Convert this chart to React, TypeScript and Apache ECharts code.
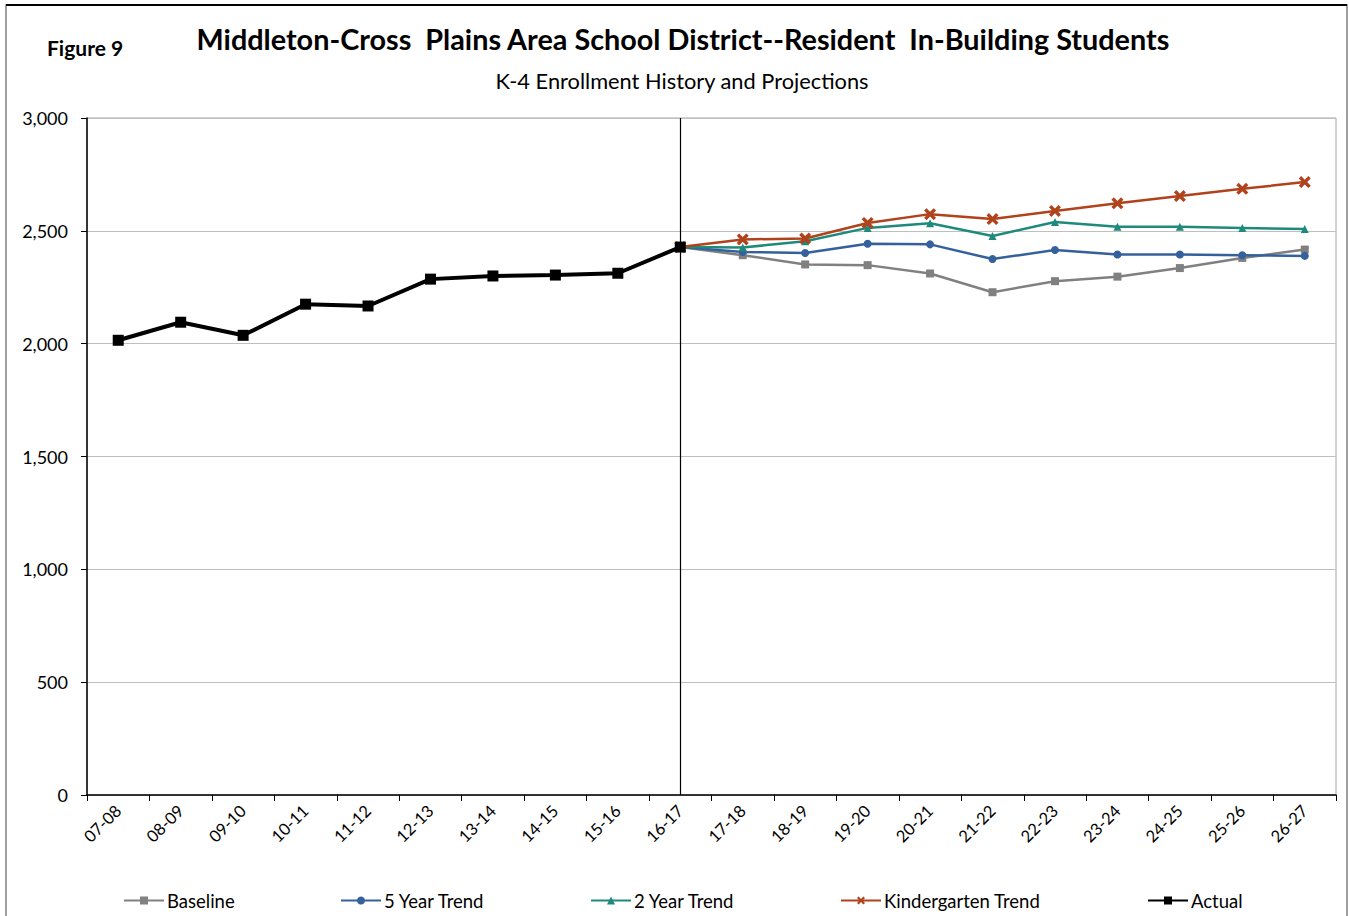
import React, { useEffect, useRef } from "react";
import * as echarts from "echarts";

const categories = ["07-08", "08-09", "09-10", "10-11", "11-12", "12-13", "13-14", "14-15", "15-16", "16-17", "17-18", "18-19", "19-20", "20-21", "21-22", "22-23", "23-24", "24-25", "25-26", "26-27"];
const actual = [2015, 2095, 2037, 2175, 2167, 2286, 2300, 2304, 2312, 2428, null, null, null, null, null, null, null, null, null, null];
const baseline = [null, null, null, null, null, null, null, null, null, 2428, 2392, 2351, 2348, 2311, 2228, 2277, 2297, 2335, 2380, 2417];
const fiveYear = [null, null, null, null, null, null, null, null, null, 2428, 2406, 2402, 2443, 2440, 2375, 2415, 2395, 2395, 2392, 2389];
const twoYear = [null, null, null, null, null, null, null, null, null, 2428, 2426, 2454, 2513, 2534, 2477, 2539, 2518, 2518, 2513, 2508];
const kinderTrend = [null, null, null, null, null, null, null, null, null, 2428, 2462, 2466, 2535, 2574, 2552, 2588, 2622, 2654, 2686, 2716];
const yTicks = { min: 0, max: 3000, interval: 500 };

const FONT = "Lato, 'Noto Sans', sans-serif";
const xSymbol = "path://M0,2 L2,0 L5,3 L8,0 L10,2 L7,5 L10,8 L8,10 L5,7 L2,10 L0,8 L3,5 Z";

export default function App() {
  const ref = useRef<HTMLDivElement>(null);
  useEffect(() => {
    document.body.style.margin = "0";
    const chart = echarts.init(ref.current!, null, { renderer: "svg" });
    const legendBase = {
      top: 891,
      itemWidth: 40,
      itemHeight: 10,
      textStyle: { fontFamily: FONT, fontSize: 18.5, color: "#000", padding: [0, 0, 0, -2] },
      selectedMode: false,
      padding: 0,
    };
    chart.setOption({
      animation: false,
      backgroundColor: "#fff",
      textStyle: { fontFamily: FONT },
      title: [
        { text: "Figure 9", left: 42, top: 32, textStyle: { fontFamily: FONT, fontSize: 21, fontWeight: "bold", color: "#000" } },
        { text: "Middleton-Cross  Plains Area School District--Resident  In-Building Students", left: 678, textAlign: "center", top: 19, textStyle: { fontFamily: FONT, fontSize: 28.8, fontWeight: "bold", color: "#000" } },
        { text: "K-4 Enrollment History and Projections", left: 677, textAlign: "center", top: 64, textStyle: { fontFamily: FONT, fontSize: 21.8, fontWeight: "normal", color: "#000" } },
      ],
      graphic: [
        { type: "rect", shape: { x: 6, y: 5, width: 1341, height: 930 }, style: { fill: "none", stroke: "#808080", lineWidth: 1.5 }, silent: true },
        { type: "line", shape: { x1: 6, y1: 5, x2: 1347, y2: 5 }, style: { stroke: "#000", lineWidth: 2 }, silent: true },
      ],
      legend: [
        { ...legendBase, left: 123, data: ["Baseline"] },
        { ...legendBase, left: 340, data: ["5 Year Trend"] },
        { ...legendBase, left: 590, data: ["2 Year Trend"] },
        { ...legendBase, left: 840, data: ["Kindergarten Trend"] },
        { ...legendBase, left: 1147, data: ["Actual"] },
      ],
      grid: { left: 87, right: 13, top: 118, bottom: 121, show: true, borderColor: "#a6a6a6", borderWidth: 1, containLabel: false },
      xAxis: {
        type: "category",
        data: categories,
        boundaryGap: true,
        axisLine: { show: true, lineStyle: { color: "#000", width: 1.5 } },
        axisTick: { show: true, interval: 0, length: 6, lineStyle: { color: "#000" } },
        axisLabel: { interval: 0, rotate: 45, fontSize: 16.5, color: "#000", fontFamily: FONT, margin: 13 },
        splitLine: { show: false },
      },
      yAxis: {
        type: "value",
        min: yTicks.min,
        max: yTicks.max,
        interval: yTicks.interval,
        axisLine: { show: true, lineStyle: { color: "#000", width: 1.5 } },
        axisTick: { show: true, length: 6, lineStyle: { color: "#000" } },
        axisLabel: { fontSize: 18, color: "#000", fontFamily: FONT, margin: 19, formatter: (v: number) => v.toLocaleString("en-US") },
        splitLine: { show: true, lineStyle: { color: "#bfbfbf", width: 1 } },
      },
      series: [
        {
          name: "Baseline", type: "line", data: baseline, color: "#808080",
          symbol: "rect", symbolSize: 8,
          lineStyle: { width: 2.5, color: "#808080" }, itemStyle: { color: "#808080" },
        },
        {
          name: "5 Year Trend", type: "line", data: fiveYear, color: "#34609c",
          symbol: "circle", symbolSize: 8,
          lineStyle: { width: 2.5, color: "#34609c" }, itemStyle: { color: "#34609c" },
        },
        {
          name: "2 Year Trend", type: "line", data: twoYear, color: "#1e8a7c",
          symbol: "triangle", symbolSize: 8,
          lineStyle: { width: 2.5, color: "#1e8a7c" }, itemStyle: { color: "#1e8a7c" },
        },
        {
          name: "Kindergarten Trend", type: "line", data: kinderTrend, color: "#b0421c",
          symbol: xSymbol, symbolSize: 12,
          lineStyle: { width: 2.5, color: "#b0421c" }, itemStyle: { color: "#b0421c" },
        },
        {
          name: "Actual", type: "line", data: actual, color: "#000",
          symbol: "rect", symbolSize: 11,
          lineStyle: { width: 4, color: "#000" }, itemStyle: { color: "#000" },
          z: 5,
          markLine: {
            silent: true, symbol: "none", label: { show: false },
            lineStyle: { color: "#000", width: 1.2, type: "solid" },
            data: [{ xAxis: "16-17" }],
          },
        },
      ],
    });
    return () => chart.dispose();
  }, []);
  return <div ref={ref} style={{ position: "absolute", left: 0, top: 0, width: 1349, height: 916 }} />;
}
